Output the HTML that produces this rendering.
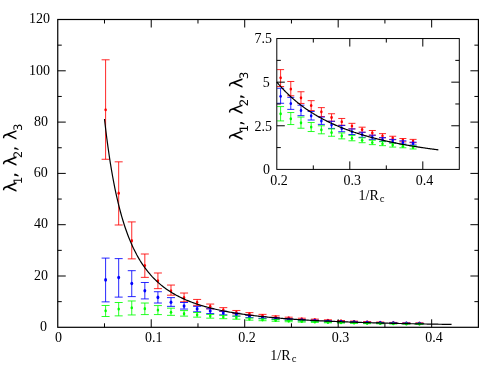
<!DOCTYPE html>
<html><head><meta charset="utf-8"><title>plot</title>
<style>
html,body{margin:0;padding:0;background:#fff;}
body{width:498px;height:385px;overflow:hidden;font-family:"Liberation Serif",serif;}
svg{display:block;will-change:transform;}
text{fill:#000;-webkit-font-smoothing:antialiased;}
</style></head><body>
<svg width="498" height="385" viewBox="0 0 498 385">
<rect x="0" y="0" width="498" height="385" fill="#fff"/>
<path d="M105.60 159.27V59.80M101.60 59.80h8.00M101.60 159.27h8.00M118.68 224.99V161.84M114.68 161.84h8.00M114.68 224.99h8.00M131.76 258.87V221.91M127.76 221.91h8.00M127.76 258.87h8.00M144.83 277.36V254.00M140.83 254.00h8.00M140.83 277.36h8.00M157.91 288.65V272.99M153.91 272.99h8.00M153.91 288.65h8.00M170.99 295.20V285.06M166.99 285.06h8.00M166.99 295.20h8.00M184.07 301.74V293.02M180.07 293.02h8.00M180.07 301.74h8.00M197.14 305.34V299.43M193.14 299.43h8.00M193.14 305.34h8.00M210.22 308.80V304.05M206.22 304.05h8.00M206.22 308.80h8.00M223.30 311.50V307.65M219.30 307.65h8.00M219.30 311.50h8.00M236.38 313.81V310.47M232.38 310.47h8.00M232.38 313.81h8.00M249.45 315.12V312.63M245.45 312.63h8.00M245.45 315.12h8.00M262.53 316.48V314.37M258.53 314.37h8.00M258.53 316.48h8.00M275.61 317.60V315.89M271.61 315.89h8.00M271.61 317.60h8.00M288.69 318.66V317.19M284.69 317.19h8.00M284.69 318.66h8.00M301.76 319.53V318.22M297.76 318.22h8.00M297.76 319.53h8.00M314.84 320.22V319.12M310.84 319.12h8.00M310.84 320.22h8.00M327.92 320.81V319.81M323.92 319.81h8.00M323.92 320.81h8.00M341.00 321.35V320.53M337.00 320.53h8.00M337.00 321.35h8.00M354.07 321.84V321.09M350.07 321.09h8.00M350.07 321.84h8.00M367.15 322.27V321.58M363.15 321.58h8.00M363.15 322.27h8.00M380.23 322.66V322.04M376.23 322.04h8.00M376.23 322.66h8.00M393.31 322.94V322.43M389.31 322.43h8.00M389.31 322.94h8.00M406.38 323.25V322.76M402.38 322.76h8.00M402.38 323.25h8.00M419.46 323.38V322.89M415.46 322.89h8.00M415.46 323.38h8.00" stroke="#ff0000" stroke-width="0.85" fill="none"/>
<ellipse cx="105.60" cy="109.73" rx="1.25" ry="1.56" fill="#ff0000"/>
<ellipse cx="118.68" cy="193.16" rx="1.25" ry="1.56" fill="#ff0000"/>
<ellipse cx="131.76" cy="240.65" rx="1.25" ry="1.56" fill="#ff0000"/>
<ellipse cx="144.83" cy="265.55" rx="1.25" ry="1.56" fill="#ff0000"/>
<ellipse cx="157.91" cy="280.69" rx="1.25" ry="1.56" fill="#ff0000"/>
<ellipse cx="170.99" cy="290.71" rx="1.25" ry="1.56" fill="#ff0000"/>
<ellipse cx="184.07" cy="297.64" rx="1.25" ry="1.56" fill="#ff0000"/>
<ellipse cx="197.14" cy="302.39" rx="1.25" ry="1.56" fill="#ff0000"/>
<ellipse cx="210.22" cy="306.36" rx="1.25" ry="1.56" fill="#ff0000"/>
<ellipse cx="223.30" cy="309.70" rx="1.25" ry="1.56" fill="#ff0000"/>
<ellipse cx="236.38" cy="312.27" rx="1.25" ry="1.56" fill="#ff0000"/>
<ellipse cx="249.45" cy="313.83" rx="1.25" ry="1.56" fill="#ff0000"/>
<ellipse cx="262.53" cy="315.48" rx="1.25" ry="1.56" fill="#ff0000"/>
<ellipse cx="275.61" cy="316.78" rx="1.25" ry="1.56" fill="#ff0000"/>
<ellipse cx="288.69" cy="317.91" rx="1.25" ry="1.56" fill="#ff0000"/>
<ellipse cx="301.76" cy="318.84" rx="1.25" ry="1.56" fill="#ff0000"/>
<ellipse cx="314.84" cy="319.66" rx="1.25" ry="1.56" fill="#ff0000"/>
<ellipse cx="327.92" cy="320.30" rx="1.25" ry="1.56" fill="#ff0000"/>
<ellipse cx="341.00" cy="320.91" rx="1.25" ry="1.56" fill="#ff0000"/>
<ellipse cx="354.07" cy="321.45" rx="1.25" ry="1.56" fill="#ff0000"/>
<ellipse cx="367.15" cy="321.91" rx="1.25" ry="1.56" fill="#ff0000"/>
<ellipse cx="380.23" cy="322.35" rx="1.25" ry="1.56" fill="#ff0000"/>
<ellipse cx="393.31" cy="322.68" rx="1.25" ry="1.56" fill="#ff0000"/>
<ellipse cx="406.38" cy="322.99" rx="1.25" ry="1.56" fill="#ff0000"/>
<ellipse cx="419.46" cy="323.12" rx="1.25" ry="1.56" fill="#ff0000"/>
<path d="M105.60 301.87V258.10M101.60 258.10h8.00M101.60 301.87h8.00M118.68 297.12V258.62M114.68 258.62h8.00M114.68 297.12h8.00M131.76 296.61V270.68M127.76 270.68h8.00M127.76 296.61h8.00M144.83 298.92V282.49M140.83 282.49h8.00M140.83 298.92h8.00M157.91 303.03V291.73M153.91 291.73h8.00M153.91 303.03h8.00M170.99 306.36V297.64M166.99 297.64h8.00M166.99 306.36h8.00M184.07 309.06V302.51M180.07 302.51h8.00M180.07 309.06h8.00M197.14 311.75V306.36M193.14 306.36h8.00M193.14 311.75h8.00M210.22 313.55V308.80M206.22 308.80h8.00M206.22 313.55h8.00M223.30 314.84V311.24M219.30 311.24h8.00M219.30 314.84h8.00M236.38 316.12V313.17M232.38 313.17h8.00M232.38 316.12h8.00M249.45 317.58V315.37M245.45 315.37h8.00M245.45 317.58h8.00M262.53 318.48V316.71M258.53 316.71h8.00M258.53 318.48h8.00M275.61 319.40V317.86M271.61 317.86h8.00M271.61 319.40h8.00M288.69 320.04V318.78M284.69 318.78h8.00M284.69 320.04h8.00M301.76 320.68V319.61M297.76 319.61h8.00M297.76 320.68h8.00M314.84 321.27V320.22M310.84 320.22h8.00M310.84 321.27h8.00M327.92 321.76V320.84M323.92 320.84h8.00M323.92 321.76h8.00M341.00 322.17V321.35M337.00 321.35h8.00M337.00 322.17h8.00M354.07 322.58V321.84M350.07 321.84h8.00M350.07 322.58h8.00M367.15 322.89V322.27M363.15 322.27h8.00M363.15 322.89h8.00M380.23 323.17V322.63M376.23 322.63h8.00M376.23 323.17h8.00M393.31 323.38V322.89M389.31 322.89h8.00M389.31 323.38h8.00M406.38 323.58V323.09M402.38 323.09h8.00M402.38 323.58h8.00M419.46 323.71V323.30M415.46 323.30h8.00M415.46 323.71h8.00" stroke="#0000ff" stroke-width="0.85" fill="none"/>
<ellipse cx="105.60" cy="279.92" rx="1.45" ry="1.81" fill="#0000ff"/>
<ellipse cx="118.68" cy="277.61" rx="1.45" ry="1.81" fill="#0000ff"/>
<ellipse cx="131.76" cy="283.52" rx="1.45" ry="1.81" fill="#0000ff"/>
<ellipse cx="144.83" cy="290.71" rx="1.45" ry="1.81" fill="#0000ff"/>
<ellipse cx="157.91" cy="297.38" rx="1.45" ry="1.81" fill="#0000ff"/>
<ellipse cx="170.99" cy="302.26" rx="1.45" ry="1.81" fill="#0000ff"/>
<ellipse cx="184.07" cy="306.11" rx="1.45" ry="1.81" fill="#0000ff"/>
<ellipse cx="197.14" cy="308.93" rx="1.45" ry="1.81" fill="#0000ff"/>
<ellipse cx="210.22" cy="310.98" rx="1.45" ry="1.81" fill="#0000ff"/>
<ellipse cx="223.30" cy="313.04" rx="1.45" ry="1.81" fill="#0000ff"/>
<ellipse cx="236.38" cy="314.58" rx="1.45" ry="1.81" fill="#0000ff"/>
<ellipse cx="249.45" cy="316.55" rx="1.45" ry="1.81" fill="#0000ff"/>
<ellipse cx="262.53" cy="317.60" rx="1.45" ry="1.81" fill="#0000ff"/>
<ellipse cx="275.61" cy="318.63" rx="1.45" ry="1.81" fill="#0000ff"/>
<ellipse cx="288.69" cy="319.43" rx="1.45" ry="1.81" fill="#0000ff"/>
<ellipse cx="301.76" cy="320.17" rx="1.45" ry="1.81" fill="#0000ff"/>
<ellipse cx="314.84" cy="320.76" rx="1.45" ry="1.81" fill="#0000ff"/>
<ellipse cx="327.92" cy="321.27" rx="1.45" ry="1.81" fill="#0000ff"/>
<ellipse cx="341.00" cy="321.76" rx="1.45" ry="1.81" fill="#0000ff"/>
<ellipse cx="354.07" cy="322.17" rx="1.45" ry="1.81" fill="#0000ff"/>
<ellipse cx="367.15" cy="322.58" rx="1.45" ry="1.81" fill="#0000ff"/>
<ellipse cx="380.23" cy="322.89" rx="1.45" ry="1.81" fill="#0000ff"/>
<ellipse cx="393.31" cy="323.12" rx="1.45" ry="1.81" fill="#0000ff"/>
<ellipse cx="406.38" cy="323.35" rx="1.45" ry="1.81" fill="#0000ff"/>
<ellipse cx="419.46" cy="323.48" rx="1.45" ry="1.81" fill="#0000ff"/>
<path d="M105.60 316.50V305.47M101.60 305.47h8.00M101.60 316.50h8.00M118.68 315.86V302.51M114.68 302.51h8.00M114.68 315.86h8.00M131.76 314.96V300.97M127.76 300.97h8.00M127.76 314.96h8.00M144.83 314.58V303.03M140.83 303.03h8.00M140.83 314.58h8.00M157.91 314.58V305.59M153.91 305.59h8.00M153.91 314.58h8.00M170.99 315.35V308.16M166.99 308.16h8.00M166.99 315.35h8.00M184.07 316.12V310.60M180.07 310.60h8.00M180.07 316.12h8.00M197.14 317.15V312.52M193.14 312.52h8.00M193.14 317.15h8.00M210.22 318.17V314.45M206.22 314.45h8.00M206.22 318.17h8.00M223.30 318.69V315.35M219.30 315.35h8.00M219.30 318.69h8.00M236.38 319.20V316.12M232.38 316.12h8.00M232.38 319.20h8.00M249.45 320.17V318.07M245.45 318.07h8.00M245.45 320.17h8.00M262.53 320.71V318.94M258.53 318.94h8.00M258.53 320.71h8.00M275.61 321.25V319.61M271.61 319.61h8.00M271.61 321.25h8.00M288.69 321.73V320.40M284.69 320.40h8.00M284.69 321.73h8.00M301.76 322.07V320.89M297.76 320.89h8.00M297.76 322.07h8.00M314.84 322.43V321.35M310.84 321.35h8.00M310.84 322.43h8.00M327.92 322.81V321.94M323.92 321.94h8.00M323.92 322.81h8.00M341.00 323.09V322.30M337.00 322.30h8.00M337.00 323.09h8.00M354.07 323.38V322.66M350.07 322.66h8.00M350.07 323.38h8.00M367.15 323.66V323.02M363.15 323.02h8.00M363.15 323.66h8.00M380.23 323.81V323.22M376.23 323.22h8.00M376.23 323.81h8.00M393.31 324.02V323.45M389.31 323.45h8.00M389.31 324.02h8.00M406.38 324.12V323.66M402.38 323.66h8.00M402.38 324.12h8.00M419.46 324.30V323.84M415.46 323.84h8.00M415.46 324.30h8.00" stroke="#00ff00" stroke-width="0.85" fill="none"/>
<ellipse cx="105.60" cy="310.73" rx="1.25" ry="1.56" fill="#00ff00"/>
<ellipse cx="118.68" cy="309.06" rx="1.25" ry="1.56" fill="#00ff00"/>
<ellipse cx="131.76" cy="307.78" rx="1.25" ry="1.56" fill="#00ff00"/>
<ellipse cx="144.83" cy="308.67" rx="1.25" ry="1.56" fill="#00ff00"/>
<ellipse cx="157.91" cy="309.96" rx="1.25" ry="1.56" fill="#00ff00"/>
<ellipse cx="170.99" cy="312.27" rx="1.25" ry="1.56" fill="#00ff00"/>
<ellipse cx="184.07" cy="313.68" rx="1.25" ry="1.56" fill="#00ff00"/>
<ellipse cx="197.14" cy="314.84" rx="1.25" ry="1.56" fill="#00ff00"/>
<ellipse cx="210.22" cy="316.12" rx="1.25" ry="1.56" fill="#00ff00"/>
<ellipse cx="223.30" cy="316.89" rx="1.25" ry="1.56" fill="#00ff00"/>
<ellipse cx="236.38" cy="317.66" rx="1.25" ry="1.56" fill="#00ff00"/>
<ellipse cx="249.45" cy="319.12" rx="1.25" ry="1.56" fill="#00ff00"/>
<ellipse cx="262.53" cy="319.86" rx="1.25" ry="1.56" fill="#00ff00"/>
<ellipse cx="275.61" cy="320.45" rx="1.25" ry="1.56" fill="#00ff00"/>
<ellipse cx="288.69" cy="321.07" rx="1.25" ry="1.56" fill="#00ff00"/>
<ellipse cx="301.76" cy="321.48" rx="1.25" ry="1.56" fill="#00ff00"/>
<ellipse cx="314.84" cy="321.89" rx="1.25" ry="1.56" fill="#00ff00"/>
<ellipse cx="327.92" cy="322.38" rx="1.25" ry="1.56" fill="#00ff00"/>
<ellipse cx="341.00" cy="322.71" rx="1.25" ry="1.56" fill="#00ff00"/>
<ellipse cx="354.07" cy="323.02" rx="1.25" ry="1.56" fill="#00ff00"/>
<ellipse cx="367.15" cy="323.35" rx="1.25" ry="1.56" fill="#00ff00"/>
<ellipse cx="380.23" cy="323.53" rx="1.25" ry="1.56" fill="#00ff00"/>
<ellipse cx="393.31" cy="323.71" rx="1.25" ry="1.56" fill="#00ff00"/>
<ellipse cx="406.38" cy="323.89" rx="1.25" ry="1.56" fill="#00ff00"/>
<ellipse cx="419.46" cy="324.07" rx="1.25" ry="1.56" fill="#00ff00"/>
<polyline points="104.49,119.02 105.65,129.01 106.80,138.29 107.96,146.95 109.12,155.02 110.27,162.56 111.43,169.62 112.59,176.23 113.74,182.44 114.90,188.27 116.06,193.76 117.22,198.93 118.37,203.81 119.53,208.41 120.69,212.76 121.84,216.88 123.00,220.78 124.16,224.48 125.31,227.99 126.47,231.32 127.63,234.49 128.78,237.50 129.94,240.37 131.10,243.10 132.26,245.71 133.41,248.20 134.57,250.57 135.73,252.84 136.88,255.02 138.04,257.09 139.20,259.08 140.35,260.99 141.51,262.82 142.67,264.57 143.82,266.25 144.98,267.87 146.14,269.42 147.30,270.92 148.45,272.35 149.61,273.73 150.77,275.07 151.92,276.35 153.08,277.58 154.24,278.77 155.39,279.92 156.55,281.03 157.71,282.10 158.87,283.13 160.02,284.13 161.18,285.10 162.34,286.03 163.49,286.93 164.65,287.81 165.81,288.65 166.96,289.47 168.12,290.26 169.28,291.03 170.43,291.78 171.59,292.50 172.75,293.20 173.91,293.88 175.06,294.54 176.22,295.18 177.38,295.80 178.53,296.40 179.69,296.99 180.85,297.56 182.00,298.11 183.16,298.65 184.32,299.17 185.47,299.68 186.63,300.18 187.79,300.66 188.95,301.13 190.10,301.59 191.26,302.04 192.42,302.47 193.57,302.89 194.73,303.31 195.89,303.71 197.04,304.10 198.20,304.48 199.36,304.86 200.52,305.22 201.67,305.57 202.83,305.92 203.99,306.26 205.14,306.59 206.30,306.91 207.46,307.23 208.61,307.54 209.77,307.84 210.93,308.13 212.08,308.42 213.24,308.70 214.40,308.98 215.56,309.25 216.71,309.51 217.87,309.77 219.03,310.02 220.18,310.26 221.34,310.51 222.50,310.74 223.65,310.97 224.81,311.20 225.97,311.42 227.12,311.64 228.28,311.85 229.44,312.06 230.60,312.26 231.75,312.46 232.91,312.66 234.07,312.85 235.22,313.04 236.38,313.23 237.54,313.41 238.69,313.59 239.85,313.76 241.01,313.93 242.17,314.10 243.32,314.26 244.48,314.43 245.64,314.59 246.79,314.74 247.95,314.89 249.11,315.04 250.26,315.19 251.42,315.34 252.58,315.48 253.73,315.62 254.89,315.76 256.05,315.89 257.21,316.02 258.36,316.15 259.52,316.28 260.68,316.41 261.83,316.53 262.99,316.65 264.15,316.77 265.30,316.89 266.46,317.01 267.62,317.12 268.77,317.23 269.93,317.34 271.09,317.45 272.25,317.56 273.40,317.66 274.56,317.77 275.72,317.87 276.87,317.97 278.03,318.06 279.19,318.16 280.34,318.26 281.50,318.35 282.66,318.44 283.82,318.53 284.97,318.62 286.13,318.71 287.29,318.80 288.44,318.88 289.60,318.97 290.76,319.05 291.91,319.13 293.07,319.21 294.23,319.29 295.38,319.37 296.54,319.45 297.70,319.52 298.86,319.60 300.01,319.67 301.17,319.74 302.33,319.82 303.48,319.89 304.64,319.96 305.80,320.02 306.95,320.09 308.11,320.16 309.27,320.23 310.42,320.29 311.58,320.35 312.74,320.42 313.90,320.48 315.05,320.54 316.21,320.60 317.37,320.66 318.52,320.72 319.68,320.78 320.84,320.84 321.99,320.89 323.15,320.95 324.31,321.00 325.47,321.06 326.62,321.11 327.78,321.17 328.94,321.22 330.09,321.27 331.25,321.32 332.41,321.37 333.56,321.42 334.72,321.47 335.88,321.52 337.03,321.57 338.19,321.62 339.35,321.66 340.51,321.71 341.66,321.75 342.82,321.80 343.98,321.84 345.13,321.89 346.29,321.93 347.45,321.97 348.60,322.02 349.76,322.06 350.92,322.10 352.07,322.14 353.23,322.18 354.39,322.22 355.55,322.26 356.70,322.30 357.86,322.34 359.02,322.38 360.17,322.42 361.33,322.45 362.49,322.49 363.64,322.53 364.80,322.56 365.96,322.60 367.12,322.63 368.27,322.67 369.43,322.70 370.59,322.74 371.74,322.77 372.90,322.80 374.06,322.84 375.21,322.87 376.37,322.90 377.53,322.93 378.68,322.97 379.84,323.00 381.00,323.03 382.16,323.06 383.31,323.09 384.47,323.12 385.63,323.15 386.78,323.18 387.94,323.21 389.10,323.23 390.25,323.26 391.41,323.29 392.57,323.32 393.72,323.35 394.88,323.37 396.04,323.40 397.20,323.43 398.35,323.45 399.51,323.48 400.67,323.51 401.82,323.53 402.98,323.56 404.14,323.58 405.29,323.61 406.45,323.63 407.61,323.66 408.76,323.68 409.92,323.70 411.08,323.73 412.24,323.75 413.39,323.77 414.55,323.80 415.71,323.82 416.86,323.84 418.02,323.86 419.18,323.89 420.33,323.91 421.49,323.93 422.65,323.95 423.81,323.97 424.96,323.99 426.12,324.01 427.28,324.03 428.43,324.06 429.59,324.08 430.75,324.10 431.90,324.12 433.06,324.14 434.22,324.15 435.37,324.17 436.53,324.19 437.69,324.21 438.85,324.23 440.00,324.25 441.16,324.27 442.32,324.29 443.47,324.30 444.63,324.32 445.79,324.34 446.94,324.36 448.10,324.38 449.26,324.39 450.41,324.41 451.57,324.43" fill="none" stroke="#000" stroke-width="1.2"/>
<path d="M280.60 86.53V69.61M277.10 69.61h7.00M277.10 86.53h7.00M290.79 95.78V81.47M287.29 81.47h7.00M287.29 95.78h7.00M300.98 103.45V91.76M297.48 91.76h7.00M297.48 103.45h7.00M311.17 110.60V100.66M307.67 100.66h7.00M307.67 110.60h7.00M321.36 116.54V107.64M317.86 107.64h7.00M317.86 116.54h7.00M331.55 121.25V113.75M328.05 113.75h7.00M328.05 121.25h7.00M341.74 125.26V118.46M338.24 118.46h7.00M338.24 125.26h7.00M351.93 128.92V123.34M348.43 123.34h7.00M348.43 128.92h7.00M362.12 132.24V127.18M358.62 127.18h7.00M358.62 132.24h7.00M372.31 135.20V130.49M368.81 130.49h7.00M368.81 135.20h7.00M382.50 137.82V133.63M379.00 133.63h7.00M379.00 137.82h7.00M392.69 139.74V136.25M389.19 136.25h7.00M389.19 139.74h7.00M402.89 141.83V138.52M399.39 138.52h7.00M399.39 141.83h7.00M413.08 142.71V139.39M409.58 139.39h7.00M409.58 142.71h7.00" stroke="#ff0000" stroke-width="0.85" fill="none"/>
<ellipse cx="280.60" cy="77.80" rx="1.25" ry="1.56" fill="#ff0000"/>
<ellipse cx="290.79" cy="88.97" rx="1.25" ry="1.56" fill="#ff0000"/>
<ellipse cx="300.98" cy="97.87" rx="1.25" ry="1.56" fill="#ff0000"/>
<ellipse cx="311.17" cy="105.55" rx="1.25" ry="1.56" fill="#ff0000"/>
<ellipse cx="321.36" cy="111.83" rx="1.25" ry="1.56" fill="#ff0000"/>
<ellipse cx="331.55" cy="117.41" rx="1.25" ry="1.56" fill="#ff0000"/>
<ellipse cx="341.74" cy="121.77" rx="1.25" ry="1.56" fill="#ff0000"/>
<ellipse cx="351.93" cy="125.96" rx="1.25" ry="1.56" fill="#ff0000"/>
<ellipse cx="362.12" cy="129.62" rx="1.25" ry="1.56" fill="#ff0000"/>
<ellipse cx="372.31" cy="132.76" rx="1.25" ry="1.56" fill="#ff0000"/>
<ellipse cx="382.50" cy="135.73" rx="1.25" ry="1.56" fill="#ff0000"/>
<ellipse cx="392.69" cy="138.00" rx="1.25" ry="1.56" fill="#ff0000"/>
<ellipse cx="402.89" cy="140.09" rx="1.25" ry="1.56" fill="#ff0000"/>
<ellipse cx="413.08" cy="140.96" rx="1.25" ry="1.56" fill="#ff0000"/>
<path d="M280.60 103.28V88.27M277.10 88.27h7.00M277.10 103.28h7.00M290.79 109.38V97.35M287.29 97.35h7.00M287.29 109.38h7.00M300.98 115.66V105.20M297.48 105.20h7.00M297.48 115.66h7.00M311.17 120.03V111.48M307.67 111.48h7.00M307.67 120.03h7.00M321.36 124.39V117.06M317.86 117.06h7.00M317.86 124.39h7.00M331.55 128.40V121.25M328.05 121.25h7.00M328.05 128.40h7.00M341.74 131.72V125.43M338.24 125.43h7.00M338.24 131.72h7.00M351.93 134.51V128.92M348.43 128.92h7.00M348.43 134.51h7.00M362.12 137.30V132.24M358.62 132.24h7.00M358.62 137.30h7.00M372.31 139.39V135.20M368.81 135.20h7.00M368.81 139.39h7.00M382.50 141.31V137.65M379.00 137.65h7.00M379.00 141.31h7.00M392.69 142.71V139.39M389.19 139.39h7.00M389.19 142.71h7.00M402.89 144.10V140.79M399.39 140.79h7.00M399.39 144.10h7.00M413.08 144.97V142.18M409.58 142.18h7.00M409.58 144.97h7.00" stroke="#0000ff" stroke-width="0.85" fill="none"/>
<ellipse cx="280.60" cy="96.30" rx="1.25" ry="1.56" fill="#0000ff"/>
<ellipse cx="290.79" cy="103.45" rx="1.25" ry="1.56" fill="#0000ff"/>
<ellipse cx="300.98" cy="110.43" rx="1.25" ry="1.56" fill="#0000ff"/>
<ellipse cx="311.17" cy="115.84" rx="1.25" ry="1.56" fill="#0000ff"/>
<ellipse cx="321.36" cy="120.90" rx="1.25" ry="1.56" fill="#0000ff"/>
<ellipse cx="331.55" cy="124.91" rx="1.25" ry="1.56" fill="#0000ff"/>
<ellipse cx="341.74" cy="128.40" rx="1.25" ry="1.56" fill="#0000ff"/>
<ellipse cx="351.93" cy="131.72" rx="1.25" ry="1.56" fill="#0000ff"/>
<ellipse cx="362.12" cy="134.51" rx="1.25" ry="1.56" fill="#0000ff"/>
<ellipse cx="372.31" cy="137.30" rx="1.25" ry="1.56" fill="#0000ff"/>
<ellipse cx="382.50" cy="139.39" rx="1.25" ry="1.56" fill="#0000ff"/>
<ellipse cx="392.69" cy="140.96" rx="1.25" ry="1.56" fill="#0000ff"/>
<ellipse cx="402.89" cy="142.53" rx="1.25" ry="1.56" fill="#0000ff"/>
<ellipse cx="413.08" cy="143.40" rx="1.25" ry="1.56" fill="#0000ff"/>
<path d="M280.60 120.90V106.59M277.10 106.59h7.00M277.10 120.90h7.00M290.79 124.56V112.52M287.29 112.52h7.00M287.29 124.56h7.00M300.98 128.23V117.06M297.48 117.06h7.00M297.48 128.23h7.00M311.17 131.54V122.47M307.67 122.47h7.00M307.67 131.54h7.00M321.36 133.81V125.78M317.86 125.78h7.00M317.86 133.81h7.00M331.55 136.25V128.92M328.05 128.92h7.00M328.05 136.25h7.00M341.74 138.87V132.94M338.24 132.94h7.00M338.24 138.87h7.00M351.93 140.79V135.38M348.43 135.38h7.00M348.43 140.79h7.00M362.12 142.71V137.82M358.62 137.82h7.00M358.62 142.71h7.00M372.31 144.63V140.26M368.81 140.26h7.00M368.81 144.63h7.00M382.50 145.67V141.66M379.00 141.66h7.00M379.00 145.67h7.00M392.69 147.07V143.23M389.19 143.23h7.00M389.19 147.07h7.00M402.89 147.77V144.63M399.39 144.63h7.00M399.39 147.77h7.00M413.08 148.99V145.85M409.58 145.85h7.00M409.58 148.99h7.00" stroke="#00ff00" stroke-width="0.85" fill="none"/>
<ellipse cx="280.60" cy="113.75" rx="1.25" ry="1.56" fill="#00ff00"/>
<ellipse cx="290.79" cy="118.80" rx="1.25" ry="1.56" fill="#00ff00"/>
<ellipse cx="300.98" cy="122.82" rx="1.25" ry="1.56" fill="#00ff00"/>
<ellipse cx="311.17" cy="127.00" rx="1.25" ry="1.56" fill="#00ff00"/>
<ellipse cx="321.36" cy="129.80" rx="1.25" ry="1.56" fill="#00ff00"/>
<ellipse cx="331.55" cy="132.59" rx="1.25" ry="1.56" fill="#00ff00"/>
<ellipse cx="341.74" cy="135.90" rx="1.25" ry="1.56" fill="#00ff00"/>
<ellipse cx="351.93" cy="138.17" rx="1.25" ry="1.56" fill="#00ff00"/>
<ellipse cx="362.12" cy="140.26" rx="1.25" ry="1.56" fill="#00ff00"/>
<ellipse cx="372.31" cy="142.53" rx="1.25" ry="1.56" fill="#00ff00"/>
<ellipse cx="382.50" cy="143.75" rx="1.25" ry="1.56" fill="#00ff00"/>
<ellipse cx="392.69" cy="144.97" rx="1.25" ry="1.56" fill="#00ff00"/>
<ellipse cx="402.89" cy="146.20" rx="1.25" ry="1.56" fill="#00ff00"/>
<ellipse cx="413.08" cy="147.42" rx="1.25" ry="1.56" fill="#00ff00"/>
<polyline points="276.80,82.05 277.34,82.70 277.88,83.33 278.42,83.96 278.95,84.59 279.49,85.20 280.03,85.81 280.57,86.41 281.11,87.01 281.65,87.60 282.18,88.18 282.72,88.76 283.26,89.33 283.80,89.90 284.34,90.46 284.88,91.01 285.42,91.56 285.95,92.10 286.49,92.64 287.03,93.17 287.57,93.69 288.11,94.21 288.65,94.73 289.19,95.24 289.72,95.74 290.26,96.24 290.80,96.73 291.34,97.22 291.88,97.71 292.42,98.19 292.95,98.66 293.49,99.13 294.03,99.60 294.57,100.06 295.11,100.51 295.65,100.96 296.19,101.41 296.72,101.85 297.26,102.29 297.80,102.73 298.34,103.16 298.88,103.58 299.42,104.00 299.96,104.42 300.49,104.84 301.03,105.25 301.57,105.65 302.11,106.05 302.65,106.45 303.19,106.85 303.72,107.24 304.26,107.63 304.80,108.01 305.34,108.39 305.88,108.77 306.42,109.14 306.96,109.51 307.49,109.87 308.03,110.24 308.57,110.60 309.11,110.95 309.65,111.31 310.19,111.66 310.73,112.00 311.26,112.35 311.80,112.69 312.34,113.03 312.88,113.36 313.42,113.69 313.96,114.02 314.49,114.35 315.03,114.67 315.57,114.99 316.11,115.31 316.65,115.62 317.19,115.93 317.73,116.24 318.26,116.55 318.80,116.85 319.34,117.15 319.88,117.45 320.42,117.75 320.96,118.04 321.50,118.33 322.03,118.62 322.57,118.91 323.11,119.19 323.65,119.47 324.19,119.75 324.73,120.03 325.26,120.30 325.80,120.57 326.34,120.84 326.88,121.11 327.42,121.38 327.96,121.64 328.50,121.90 329.03,122.16 329.57,122.42 330.11,122.67 330.65,122.93 331.19,123.18 331.73,123.42 332.27,123.67 332.80,123.92 333.34,124.16 333.88,124.40 334.42,124.64 334.96,124.88 335.50,125.11 336.03,125.34 336.57,125.57 337.11,125.80 337.65,126.03 338.19,126.26 338.73,126.48 339.27,126.71 339.80,126.93 340.34,127.14 340.88,127.36 341.42,127.58 341.96,127.79 342.50,128.00 343.04,128.22 343.57,128.42 344.11,128.63 344.65,128.84 345.19,129.04 345.73,129.25 346.27,129.45 346.80,129.65 347.34,129.85 347.88,130.04 348.42,130.24 348.96,130.43 349.50,130.62 350.04,130.82 350.57,131.01 351.11,131.19 351.65,131.38 352.19,131.57 352.73,131.75 353.27,131.93 353.81,132.12 354.34,132.30 354.88,132.47 355.42,132.65 355.96,132.83 356.50,133.00 357.04,133.18 357.57,133.35 358.11,133.52 358.65,133.69 359.19,133.86 359.73,134.03 360.27,134.20 360.81,134.36 361.34,134.53 361.88,134.69 362.42,134.85 362.96,135.01 363.50,135.17 364.04,135.33 364.57,135.49 365.11,135.64 365.65,135.80 366.19,135.95 366.73,136.11 367.27,136.26 367.81,136.41 368.34,136.56 368.88,136.71 369.42,136.86 369.96,137.00 370.50,137.15 371.04,137.30 371.58,137.44 372.11,137.58 372.65,137.73 373.19,137.87 373.73,138.01 374.27,138.15 374.81,138.28 375.34,138.42 375.88,138.56 376.42,138.69 376.96,138.83 377.50,138.96 378.04,139.10 378.58,139.23 379.11,139.36 379.65,139.49 380.19,139.62 380.73,139.75 381.27,139.88 381.81,140.00 382.35,140.13 382.88,140.26 383.42,140.38 383.96,140.50 384.50,140.63 385.04,140.75 385.58,140.87 386.11,140.99 386.65,141.11 387.19,141.23 387.73,141.35 388.27,141.47 388.81,141.59 389.35,141.70 389.88,141.82 390.42,141.93 390.96,142.05 391.50,142.16 392.04,142.27 392.58,142.38 393.12,142.50 393.65,142.61 394.19,142.72 394.73,142.83 395.27,142.93 395.81,143.04 396.35,143.15 396.88,143.26 397.42,143.36 397.96,143.47 398.50,143.57 399.04,143.68 399.58,143.78 400.12,143.88 400.65,143.99 401.19,144.09 401.73,144.19 402.27,144.29 402.81,144.39 403.35,144.49 403.89,144.59 404.42,144.68 404.96,144.78 405.50,144.88 406.04,144.97 406.58,145.07 407.12,145.17 407.65,145.26 408.19,145.35 408.73,145.45 409.27,145.54 409.81,145.63 410.35,145.73 410.89,145.82 411.42,145.91 411.96,146.00 412.50,146.09 413.04,146.18 413.58,146.27 414.12,146.35 414.66,146.44 415.19,146.53 415.73,146.62 416.27,146.70 416.81,146.79 417.35,146.87 417.89,146.96 418.42,147.04 418.96,147.13 419.50,147.21 420.04,147.29 420.58,147.38 421.12,147.46 421.66,147.54 422.19,147.62 422.73,147.70 423.27,147.78 423.81,147.86 424.35,147.94 424.89,148.02 425.43,148.10 425.96,148.18 426.50,148.25 427.04,148.33 427.58,148.41 428.12,148.48 428.66,148.56 429.19,148.63 429.73,148.71 430.27,148.78 430.81,148.86 431.35,148.93 431.89,149.01 432.43,149.08 432.96,149.15 433.50,149.22 434.04,149.30 434.58,149.37 435.12,149.44 435.66,149.51 436.20,149.58 436.73,149.65 437.27,149.72 437.81,149.79 438.35,149.86" fill="none" stroke="#000" stroke-width="1.2"/>
<rect x="57.75" y="19.5" width="420.65" height="307.80" fill="none" stroke="#000" stroke-width="1.2"/>
<rect x="276.8" y="38.55" width="182.50" height="130.85" fill="none" stroke="#000" stroke-width="1.0"/>
<line x1="104.49" y1="327.30" x2="104.49" y2="323.30" stroke="#000" stroke-width="1.0"/>
<line x1="104.49" y1="19.50" x2="104.49" y2="23.50" stroke="#000" stroke-width="1.0"/>
<line x1="151.23" y1="327.30" x2="151.23" y2="319.30" stroke="#000" stroke-width="1.0"/>
<line x1="151.23" y1="19.50" x2="151.23" y2="27.50" stroke="#000" stroke-width="1.0"/>
<line x1="197.97" y1="327.30" x2="197.97" y2="323.30" stroke="#000" stroke-width="1.0"/>
<line x1="197.97" y1="19.50" x2="197.97" y2="23.50" stroke="#000" stroke-width="1.0"/>
<line x1="244.71" y1="327.30" x2="244.71" y2="319.30" stroke="#000" stroke-width="1.0"/>
<line x1="244.71" y1="19.50" x2="244.71" y2="27.50" stroke="#000" stroke-width="1.0"/>
<line x1="291.44" y1="327.30" x2="291.44" y2="323.30" stroke="#000" stroke-width="1.0"/>
<line x1="291.44" y1="19.50" x2="291.44" y2="23.50" stroke="#000" stroke-width="1.0"/>
<line x1="338.18" y1="327.30" x2="338.18" y2="319.30" stroke="#000" stroke-width="1.0"/>
<line x1="338.18" y1="19.50" x2="338.18" y2="27.50" stroke="#000" stroke-width="1.0"/>
<line x1="384.92" y1="327.30" x2="384.92" y2="323.30" stroke="#000" stroke-width="1.0"/>
<line x1="384.92" y1="19.50" x2="384.92" y2="23.50" stroke="#000" stroke-width="1.0"/>
<line x1="431.66" y1="327.30" x2="431.66" y2="319.30" stroke="#000" stroke-width="1.0"/>
<line x1="431.66" y1="19.50" x2="431.66" y2="27.50" stroke="#000" stroke-width="1.0"/>
<line x1="57.75" y1="301.65" x2="61.75" y2="301.65" stroke="#000" stroke-width="1.0"/>
<line x1="478.40" y1="301.65" x2="474.40" y2="301.65" stroke="#000" stroke-width="1.0"/>
<line x1="57.75" y1="276.00" x2="65.75" y2="276.00" stroke="#000" stroke-width="1.0"/>
<line x1="478.40" y1="276.00" x2="470.40" y2="276.00" stroke="#000" stroke-width="1.0"/>
<line x1="57.75" y1="250.35" x2="61.75" y2="250.35" stroke="#000" stroke-width="1.0"/>
<line x1="478.40" y1="250.35" x2="474.40" y2="250.35" stroke="#000" stroke-width="1.0"/>
<line x1="57.75" y1="224.70" x2="65.75" y2="224.70" stroke="#000" stroke-width="1.0"/>
<line x1="478.40" y1="224.70" x2="470.40" y2="224.70" stroke="#000" stroke-width="1.0"/>
<line x1="57.75" y1="199.05" x2="61.75" y2="199.05" stroke="#000" stroke-width="1.0"/>
<line x1="478.40" y1="199.05" x2="474.40" y2="199.05" stroke="#000" stroke-width="1.0"/>
<line x1="57.75" y1="173.40" x2="65.75" y2="173.40" stroke="#000" stroke-width="1.0"/>
<line x1="478.40" y1="173.40" x2="470.40" y2="173.40" stroke="#000" stroke-width="1.0"/>
<line x1="57.75" y1="147.75" x2="61.75" y2="147.75" stroke="#000" stroke-width="1.0"/>
<line x1="478.40" y1="147.75" x2="474.40" y2="147.75" stroke="#000" stroke-width="1.0"/>
<line x1="57.75" y1="122.10" x2="65.75" y2="122.10" stroke="#000" stroke-width="1.0"/>
<line x1="478.40" y1="122.10" x2="470.40" y2="122.10" stroke="#000" stroke-width="1.0"/>
<line x1="57.75" y1="96.45" x2="61.75" y2="96.45" stroke="#000" stroke-width="1.0"/>
<line x1="478.40" y1="96.45" x2="474.40" y2="96.45" stroke="#000" stroke-width="1.0"/>
<line x1="57.75" y1="70.80" x2="65.75" y2="70.80" stroke="#000" stroke-width="1.0"/>
<line x1="478.40" y1="70.80" x2="470.40" y2="70.80" stroke="#000" stroke-width="1.0"/>
<line x1="57.75" y1="45.15" x2="61.75" y2="45.15" stroke="#000" stroke-width="1.0"/>
<line x1="478.40" y1="45.15" x2="474.40" y2="45.15" stroke="#000" stroke-width="1.0"/>
<line x1="313.30" y1="169.40" x2="313.30" y2="165.40" stroke="#000" stroke-width="1.0"/>
<line x1="313.30" y1="38.55" x2="313.30" y2="42.55" stroke="#000" stroke-width="1.0"/>
<line x1="349.80" y1="169.40" x2="349.80" y2="161.40" stroke="#000" stroke-width="1.0"/>
<line x1="349.80" y1="38.55" x2="349.80" y2="46.55" stroke="#000" stroke-width="1.0"/>
<line x1="386.30" y1="169.40" x2="386.30" y2="165.40" stroke="#000" stroke-width="1.0"/>
<line x1="386.30" y1="38.55" x2="386.30" y2="42.55" stroke="#000" stroke-width="1.0"/>
<line x1="422.80" y1="169.40" x2="422.80" y2="161.40" stroke="#000" stroke-width="1.0"/>
<line x1="422.80" y1="38.55" x2="422.80" y2="46.55" stroke="#000" stroke-width="1.0"/>
<line x1="276.80" y1="147.59" x2="280.80" y2="147.59" stroke="#000" stroke-width="1.0"/>
<line x1="459.30" y1="147.59" x2="455.30" y2="147.59" stroke="#000" stroke-width="1.0"/>
<line x1="276.80" y1="125.78" x2="284.80" y2="125.78" stroke="#000" stroke-width="1.0"/>
<line x1="459.30" y1="125.78" x2="451.30" y2="125.78" stroke="#000" stroke-width="1.0"/>
<line x1="276.80" y1="103.97" x2="280.80" y2="103.97" stroke="#000" stroke-width="1.0"/>
<line x1="459.30" y1="103.97" x2="455.30" y2="103.97" stroke="#000" stroke-width="1.0"/>
<line x1="276.80" y1="82.17" x2="284.80" y2="82.17" stroke="#000" stroke-width="1.0"/>
<line x1="459.30" y1="82.17" x2="451.30" y2="82.17" stroke="#000" stroke-width="1.0"/>
<line x1="276.80" y1="60.36" x2="280.80" y2="60.36" stroke="#000" stroke-width="1.0"/>
<line x1="459.30" y1="60.36" x2="455.30" y2="60.36" stroke="#000" stroke-width="1.0"/>
<text x="46.90" y="331.40" font-family="Liberation Serif" font-size="14" text-anchor="end" >0</text>
<text x="48.00" y="280.15" font-family="Liberation Serif" font-size="14" text-anchor="end" >20</text>
<text x="48.00" y="228.20" font-family="Liberation Serif" font-size="14" text-anchor="end" >40</text>
<text x="47.70" y="177.05" font-family="Liberation Serif" font-size="14" text-anchor="end" >60</text>
<text x="48.00" y="126.40" font-family="Liberation Serif" font-size="14" text-anchor="end" >80</text>
<text x="50.10" y="75.15" font-family="Liberation Serif" font-size="14" text-anchor="end" >100</text>
<text x="50.10" y="23.40" font-family="Liberation Serif" font-size="14" text-anchor="end" >120</text>
<text x="58.55" y="342.10" font-family="Liberation Serif" font-size="14" text-anchor="middle" >0</text>
<text x="153.73" y="342.10" font-family="Liberation Serif" font-size="14" text-anchor="middle" >0.1</text>
<text x="246.91" y="342.10" font-family="Liberation Serif" font-size="14" text-anchor="middle" >0.2</text>
<text x="340.58" y="342.10" font-family="Liberation Serif" font-size="14" text-anchor="middle" >0.3</text>
<text x="434.06" y="342.10" font-family="Liberation Serif" font-size="14" text-anchor="middle" >0.4</text>
<text x="269.90" y="174.00" font-family="Liberation Serif" font-size="14" text-anchor="end" >0</text>
<text x="272.10" y="130.88" font-family="Liberation Serif" font-size="14" text-anchor="end" >2.5</text>
<text x="269.80" y="86.77" font-family="Liberation Serif" font-size="14" text-anchor="end" >5</text>
<text x="272.10" y="43.15" font-family="Liberation Serif" font-size="14" text-anchor="end" >7.5</text>
<text x="278.90" y="184.50" font-family="Liberation Serif" font-size="14" text-anchor="middle" >0.2</text>
<text x="352.30" y="184.50" font-family="Liberation Serif" font-size="14" text-anchor="middle" >0.3</text>
<text x="424.60" y="184.50" font-family="Liberation Serif" font-size="14" text-anchor="middle" >0.4</text>
<text x="270.30" y="360.10" font-family="Liberation Serif" font-size="14">1/R<tspan font-size="10.7" dy="2.1" dx="1.3">c</tspan></text>
<text x="358.60" y="199.50" font-family="Liberation Serif" font-size="14">1/R<tspan font-size="10.7" dy="2.1" dx="0.8">c</tspan></text>
<path d="M634 1381 1151 0H956L642 828L256 0H61L552 1074L478 1272Q431 1398 324 1398H228V1556L345 1554Q571 1551 634 1381Z" fill="#000" transform="translate(16.45,192.33) rotate(-90) scale(0.00869,-0.00869)"/>
<path d="M634 1381 1151 0H956L642 828L256 0H61L552 1074L478 1272Q431 1398 324 1398H228V1556L345 1554Q571 1551 634 1381Z" fill="#000" transform="translate(16.45,166.33) rotate(-90) scale(0.00869,-0.00869)"/>
<path d="M634 1381 1151 0H956L642 828L256 0H61L552 1074L478 1272Q431 1398 324 1398H228V1556L345 1554Q571 1551 634 1381Z" fill="#000" transform="translate(16.45,140.13) rotate(-90) scale(0.00869,-0.00869)"/>
<path d="M254 170H584V1309L225 1237V1421L582 1493H784V170H1114V0H254Z" fill="#000" transform="translate(21.95,184.17) rotate(-90) scale(0.00566,-0.00566)"/>
<path d="M393 170H1098V0H150V170Q265 289 463.5 489.5Q662 690 713 748Q810 857 848.5 932.5Q887 1008 887 1081Q887 1200 803.5 1275.0Q720 1350 586 1350Q491 1350 385.5 1317.0Q280 1284 160 1217V1421Q282 1470 388.0 1495.0Q494 1520 582 1520Q814 1520 952.0 1404.0Q1090 1288 1090 1094Q1090 1002 1055.5 919.5Q1021 837 930 725Q905 696 771.0 557.5Q637 419 393 170Z" fill="#000" transform="translate(21.95,158.15) rotate(-90) scale(0.00566,-0.00566)"/>
<path d="M831 805Q976 774 1057.5 676.0Q1139 578 1139 434Q1139 213 987.0 92.0Q835 -29 555 -29Q461 -29 361.5 -10.5Q262 8 156 45V240Q240 191 340.0 166.0Q440 141 549 141Q739 141 838.5 216.0Q938 291 938 434Q938 566 845.5 640.5Q753 715 588 715H414V881H596Q745 881 824.0 940.5Q903 1000 903 1112Q903 1227 821.5 1288.5Q740 1350 588 1350Q505 1350 410.0 1332.0Q315 1314 201 1276V1456Q316 1488 416.5 1504.0Q517 1520 606 1520Q836 1520 970.0 1415.5Q1104 1311 1104 1133Q1104 1009 1033.0 923.5Q962 838 831 805Z" fill="#000" transform="translate(21.95,130.98) rotate(-90) scale(0.00566,-0.00566)"/>
<path d="M240 254H451V82L287 -238H158L240 82Z" fill="#000" transform="translate(16.45,177.77) rotate(-90) scale(0.00869,-0.00869)"/>
<path d="M240 254H451V82L287 -238H158L240 82Z" fill="#000" transform="translate(16.45,151.37) rotate(-90) scale(0.00869,-0.00869)"/>
<path d="M634 1381 1151 0H956L642 828L256 0H61L552 1074L478 1272Q431 1398 324 1398H228V1556L345 1554Q571 1551 634 1381Z" fill="#000" transform="translate(242.45,140.43) rotate(-90) scale(0.00869,-0.00869)"/>
<path d="M634 1381 1151 0H956L642 828L256 0H61L552 1074L478 1272Q431 1398 324 1398H228V1556L345 1554Q571 1551 634 1381Z" fill="#000" transform="translate(242.45,114.43) rotate(-90) scale(0.00869,-0.00869)"/>
<path d="M634 1381 1151 0H956L642 828L256 0H61L552 1074L478 1272Q431 1398 324 1398H228V1556L345 1554Q571 1551 634 1381Z" fill="#000" transform="translate(242.45,88.23) rotate(-90) scale(0.00869,-0.00869)"/>
<path d="M254 170H584V1309L225 1237V1421L582 1493H784V170H1114V0H254Z" fill="#000" transform="translate(247.95,132.27) rotate(-90) scale(0.00566,-0.00566)"/>
<path d="M393 170H1098V0H150V170Q265 289 463.5 489.5Q662 690 713 748Q810 857 848.5 932.5Q887 1008 887 1081Q887 1200 803.5 1275.0Q720 1350 586 1350Q491 1350 385.5 1317.0Q280 1284 160 1217V1421Q282 1470 388.0 1495.0Q494 1520 582 1520Q814 1520 952.0 1404.0Q1090 1288 1090 1094Q1090 1002 1055.5 919.5Q1021 837 930 725Q905 696 771.0 557.5Q637 419 393 170Z" fill="#000" transform="translate(247.95,106.25) rotate(-90) scale(0.00566,-0.00566)"/>
<path d="M831 805Q976 774 1057.5 676.0Q1139 578 1139 434Q1139 213 987.0 92.0Q835 -29 555 -29Q461 -29 361.5 -10.5Q262 8 156 45V240Q240 191 340.0 166.0Q440 141 549 141Q739 141 838.5 216.0Q938 291 938 434Q938 566 845.5 640.5Q753 715 588 715H414V881H596Q745 881 824.0 940.5Q903 1000 903 1112Q903 1227 821.5 1288.5Q740 1350 588 1350Q505 1350 410.0 1332.0Q315 1314 201 1276V1456Q316 1488 416.5 1504.0Q517 1520 606 1520Q836 1520 970.0 1415.5Q1104 1311 1104 1133Q1104 1009 1033.0 923.5Q962 838 831 805Z" fill="#000" transform="translate(247.95,79.08) rotate(-90) scale(0.00566,-0.00566)"/>
<path d="M240 254H451V82L287 -238H158L240 82Z" fill="#000" transform="translate(242.45,125.87) rotate(-90) scale(0.00869,-0.00869)"/>
<path d="M240 254H451V82L287 -238H158L240 82Z" fill="#000" transform="translate(242.45,99.47) rotate(-90) scale(0.00869,-0.00869)"/>
</svg>
</body></html>
